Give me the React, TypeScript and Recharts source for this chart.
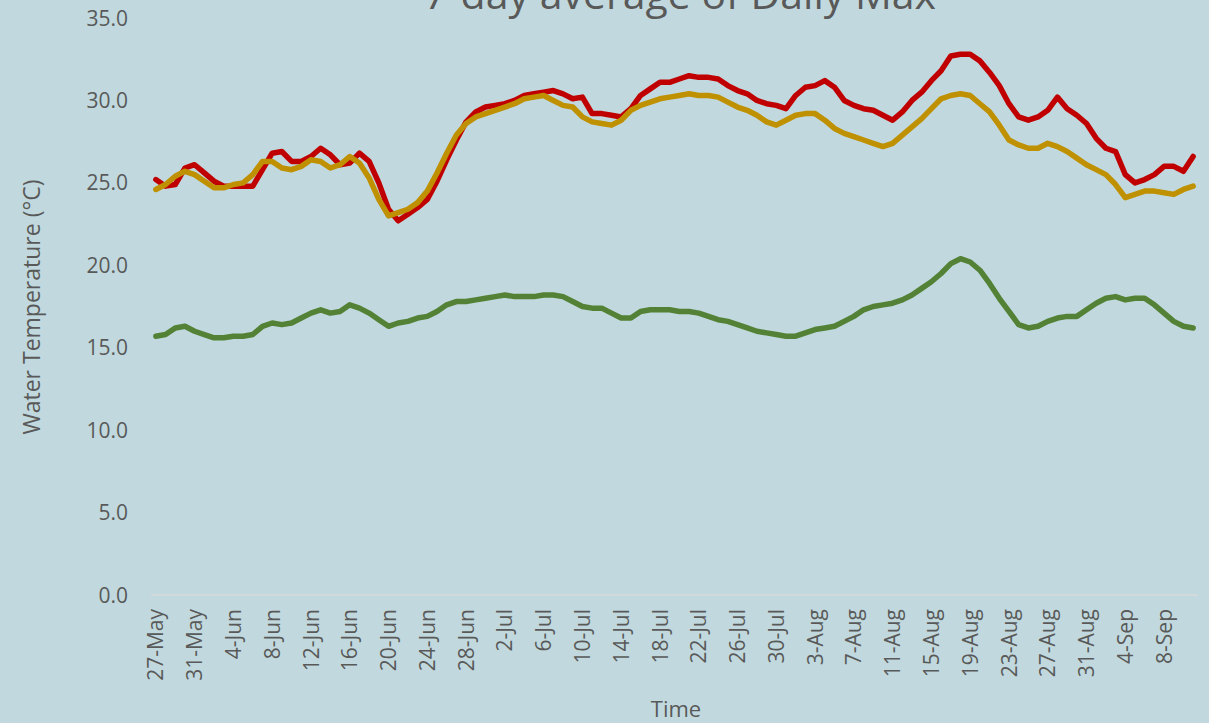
import { LineChart, Line, XAxis, YAxis } from "recharts"

const START_DAY = { month: 4, day: 27 } // 27-May
const DAY_COUNT = 108
const MONTHS = ["Jan", "Feb", "Mar", "Apr", "May", "Jun", "Jul", "Aug", "Sep", "Oct", "Nov", "Dec"]

const yTicks = [0, 5, 10, 15, 20, 25, 30, 35]

const series1 = [
	25.2, 24.8, 24.9, 25.9, 26.1, 25.6, 25.1, 24.8, 24.8, 24.8,
	24.8, 25.8, 26.8, 26.9, 26.3, 26.3, 26.6, 27.1, 26.7, 26.1,
	26.2, 26.8, 26.3, 25.0, 23.4, 22.7, 23.1, 23.5, 24.0, 25.1,
	26.4, 27.6, 28.7, 29.3, 29.6, 29.7, 29.8, 30.0, 30.3, 30.4,
	30.5, 30.6, 30.4, 30.1, 30.2, 29.2, 29.2, 29.1, 29.0, 29.5,
	30.3, 30.7, 31.1, 31.1, 31.3, 31.5, 31.4, 31.4, 31.3, 30.9,
	30.6, 30.4, 30.0, 29.8, 29.7, 29.5, 30.3, 30.8, 30.9, 31.2,
	30.8, 30.0, 29.7, 29.5, 29.4, 29.1, 28.8, 29.3, 30.0, 30.5,
	31.2, 31.8, 32.7, 32.8, 32.8, 32.4, 31.7, 30.9, 29.8, 29.0,
	28.8, 29.0, 29.4, 30.2, 29.5, 29.1, 28.6, 27.7, 27.1, 26.9,
	25.5, 25.0, 25.2, 25.5, 26.0, 26.0, 25.7, 26.6,
]

const series2 = [
	24.6, 24.9, 25.4, 25.7, 25.5, 25.1, 24.7, 24.7, 24.9, 25.0,
	25.5, 26.3, 26.3, 25.9, 25.8, 26.0, 26.4, 26.3, 25.9, 26.1,
	26.6, 26.2, 25.3, 24.0, 23.0, 23.2, 23.4, 23.8, 24.5, 25.6,
	26.8, 27.9, 28.6, 29.0, 29.2, 29.4, 29.6, 29.8, 30.1, 30.2,
	30.3, 30.0, 29.7, 29.6, 29.0, 28.7, 28.6, 28.5, 28.8, 29.4,
	29.7, 29.9, 30.1, 30.2, 30.3, 30.4, 30.3, 30.3, 30.2, 29.9,
	29.6, 29.4, 29.1, 28.7, 28.5, 28.8, 29.1, 29.2, 29.2, 28.8,
	28.3, 28.0, 27.8, 27.6, 27.4, 27.2, 27.4, 27.9, 28.4, 28.9,
	29.5, 30.1, 30.3, 30.4, 30.3, 29.8, 29.3, 28.5, 27.6, 27.3,
	27.1, 27.1, 27.4, 27.2, 26.9, 26.5, 26.1, 25.8, 25.5, 24.9,
	24.1, 24.3, 24.5, 24.5, 24.4, 24.3, 24.6, 24.8,
]

const series3 = [
	15.7, 15.8, 16.2, 16.3, 16.0, 15.8, 15.6, 15.6, 15.7, 15.7,
	15.8, 16.3, 16.5, 16.4, 16.5, 16.8, 17.1, 17.3, 17.1, 17.2,
	17.6, 17.4, 17.1, 16.7, 16.3, 16.5, 16.6, 16.8, 16.9, 17.2,
	17.6, 17.8, 17.8, 17.9, 18.0, 18.1, 18.2, 18.1, 18.1, 18.1,
	18.2, 18.2, 18.1, 17.8, 17.5, 17.4, 17.4, 17.1, 16.8, 16.8,
	17.2, 17.3, 17.3, 17.3, 17.2, 17.2, 17.1, 16.9, 16.7, 16.6,
	16.4, 16.2, 16.0, 15.9, 15.8, 15.7, 15.7, 15.9, 16.1, 16.2,
	16.3, 16.6, 16.9, 17.3, 17.5, 17.6, 17.7, 17.9, 18.2, 18.6,
	19.0, 19.5, 20.1, 20.4, 20.2, 19.7, 18.9, 18.0, 17.2, 16.4,
	16.2, 16.3, 16.6, 16.8, 16.9, 16.9, 17.3, 17.7, 18.0, 18.1,
	17.9, 18.0, 18.0, 17.6, 17.1, 16.6, 16.3, 16.2,
]

function dayLabel(offset: number) {
	const d = new Date(2019, START_DAY.month, START_DAY.day + offset)
	return `${d.getDate()}-${MONTHS[d.getMonth()]}`
}

const data = Array.from({ length: DAY_COUNT }, (_, i) => ({
	day: dayLabel(i),
	s1: series1[i],
	s2: series2[i],
	s3: series3[i],
}))

const FONT = "'Open Sans', sans-serif"
const TEXT = "#595959"

function XTick({ x, y, payload }: any) {
	return (
		<text
			transform={`translate(${x},${y}) rotate(-90)`}
			textAnchor="end"
			dy="0.36em"
			fontSize={21}
			fontFamily={FONT}
			fill={TEXT}
		>
			{payload.value}
		</text>
	)
}

function YTick({ x, y, payload }: any) {
	return (
		<text x={x} y={y} textAnchor="end" dy="0.36em" fontSize={21} fontFamily={FONT} fill={TEXT}>
			{Number(payload.value).toFixed(1)}
		</text>
	)
}

export default function App() {
	return (
		<div style={{ position: "absolute", left: 0, top: 0, width: 1209, height: 723, background: "#c1d9de", overflow: "hidden" }}>
			<LineChart width={1209} height={723} data={data} margin={{ top: 18, right: 11, bottom: 0, left: 0 }}>
				<XAxis
					dataKey="day"
					height={128}
					interval={3}
					tickLine={false}
					tickSize={0}
					tickMargin={14}
					padding={{ left: 4.85, right: 4.85 }}
					axisLine={{ stroke: "#d9d9d9", strokeWidth: 1.5 }}
					tick={<XTick />}
				/>
				<YAxis
					width={151}
					domain={[0, 35]}
					ticks={yTicks}
					axisLine={false}
					tickLine={false}
					tickSize={0}
					tickMargin={23}
					tick={<YTick />}
				/>
				<Line dataKey="s1" type="linear" stroke="#c00000" strokeWidth={5.5} dot={false} isAnimationActive={false} strokeLinejoin="round" strokeLinecap="round" />
				<Line dataKey="s2" type="linear" stroke="#bf9000" strokeWidth={5.5} dot={false} isAnimationActive={false} strokeLinejoin="round" strokeLinecap="round" />
				<Line dataKey="s3" type="linear" stroke="#538135" strokeWidth={5.5} dot={false} isAnimationActive={false} strokeLinejoin="round" strokeLinecap="round" />
			</LineChart>
			<svg width={1209} height={723} style={{ position: "absolute", left: 0, top: 0, pointerEvents: "none" }}>
				<text x={680} y={9} textAnchor="middle" fontSize={41} fontFamily={FONT} fill={TEXT}>
					7-day average of Daily Max
				</text>
				<text
					transform="translate(32,307) rotate(-90)"
					textAnchor="middle"
					dy="0.36em"
					fontSize={23}
					fontFamily={FONT}
					fill={TEXT}
				>
					Water Temperature (°C)
				</text>
				<text x={676} y={709} textAnchor="middle" dy="0.36em" fontSize={22} fontFamily={FONT} fill={TEXT}>
					Time
				</text>
			</svg>
		</div>
	)
}
